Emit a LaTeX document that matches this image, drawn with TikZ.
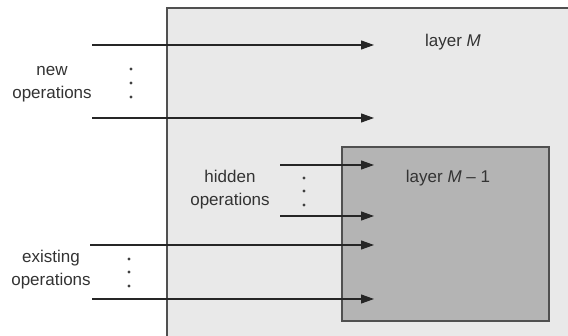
\documentclass[tikz,border=0pt]{standalone}
\usepackage{fontspec}
\setmainfont{Liberation Sans}
\usetikzlibrary{arrows.meta}
\definecolor{outerfill}{HTML}{E9E9E9}
\definecolor{innerfill}{HTML}{B4B4B4}
\definecolor{edge}{HTML}{505050}
\tikzset{
  lbl/.style={font=\fontsize{17}{23}\selectfont, text=black!80, align=center, inner sep=0pt},
  oparrow/.style={draw=black!85, line width=1.2pt, -{Triangle[length=13pt,width=9pt]}},
  vdot/.style={circle, fill=black!75, inner sep=0pt, minimum size=3.4pt},
  layerbox/.style={draw=edge, line width=1.2pt}
}
\begin{document}
\begin{tikzpicture}[x=1pt,y=-1pt]
\useasboundingbox (0,0) rectangle (568,336);
\fill[white] (0,0) rectangle (568,336);
\begin{scope}
\clip (0,0) rectangle (568,336);
\draw[layerbox, fill=outerfill] (167,8) rectangle (580,350);
\end{scope}
\draw[layerbox, fill=innerfill] (342,147) rectangle (549,321);
\node[lbl] (lm) at (453,42) {layer \textit{M}};
\node[lbl] (lm1) at (448,178) {layer \textit{M} -- 1};
\node[lbl] (newop) at (52,84) {new\\operations};
\node[lbl] (hidop) at (230,190) {hidden\\operations};
\node[lbl] (exop) at (51,270) {existing\\operations};
\foreach \n/\x/\y in {a/131/69,b/131/83,c/131/97,d/304/178,e/304/191,f/304/205,g/129/259,h/129/272,i/129/286}
  \node[vdot] (dot\n) at (\x,\y) {};
\coordinate (s1) at (92,45);   \coordinate (e1) at (374,45);
\coordinate (s2) at (92,118);  \coordinate (e2) at (374,118);
\coordinate (s3) at (280,165); \coordinate (e3) at (374,165);
\coordinate (s4) at (280,216); \coordinate (e4) at (374,216);
\coordinate (s5) at (90,245);  \coordinate (e5) at (374,245);
\coordinate (s6) at (92,299);  \coordinate (e6) at (374,299);
\foreach \k in {1,...,6} \draw[oparrow] (s\k) -- (e\k);
\end{tikzpicture}
\end{document}
